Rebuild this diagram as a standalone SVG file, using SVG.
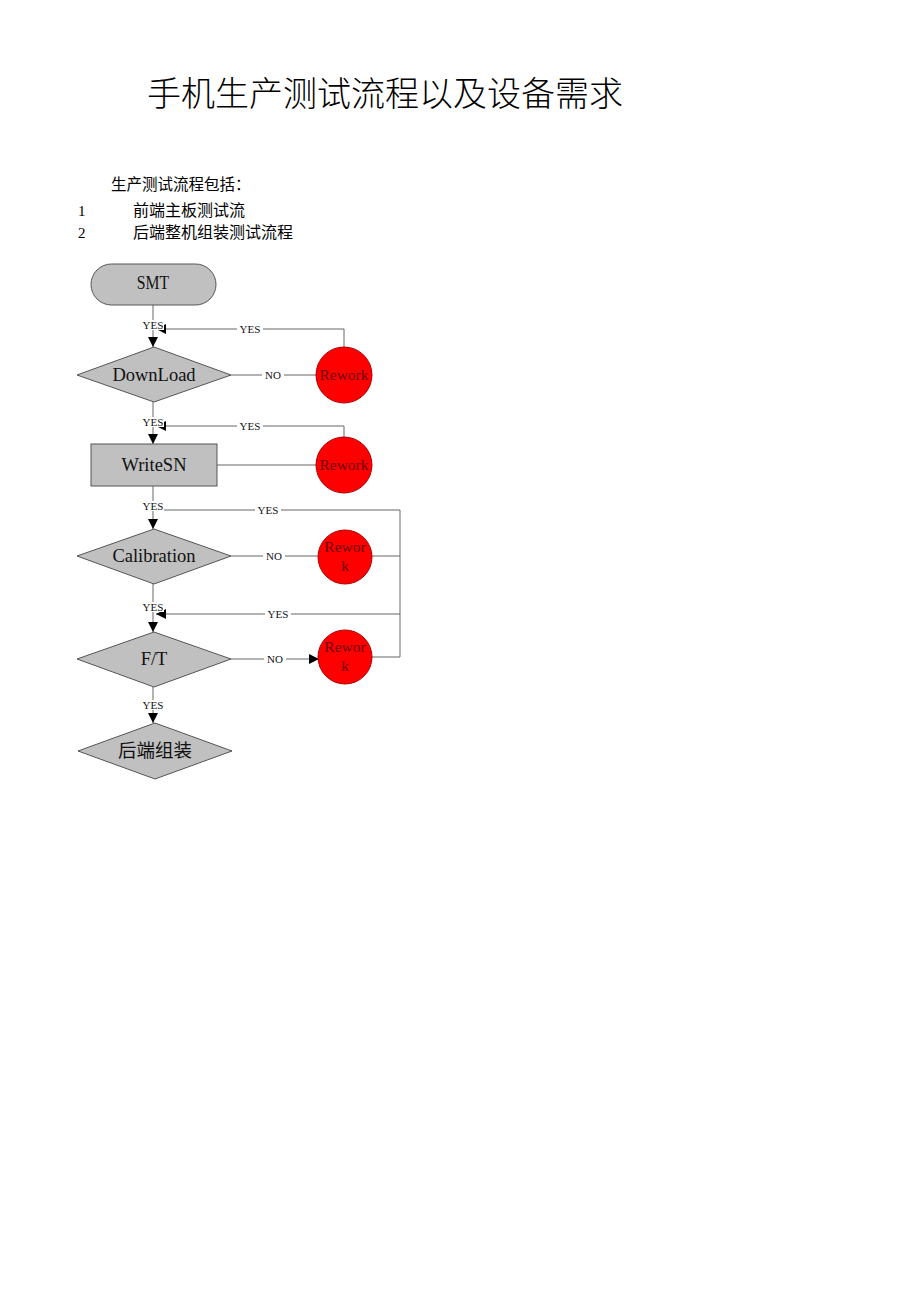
<svg xmlns="http://www.w3.org/2000/svg" width="920" height="1302" viewBox="0 0 920 1302">
<style>
.t{font-family:"Noto Sans CJK SC","Noto Sans",sans-serif;fill:#000}
.s{font-family:"Liberation Serif","Noto Sans CJK SC",serif;fill:#000}
.lbl{font-family:"Liberation Serif",serif;font-size:11px;fill:#111;text-anchor:middle}
.nd{fill:#c0c0c0;stroke:#555;stroke-width:1}
.rw{fill:#ff0000;stroke:#b00000;stroke-width:1}
.ntx{font-family:"Liberation Serif","Noto Sans CJK SC",serif;font-size:18.5px;fill:#111;text-anchor:middle}
.rtx{font-family:"Liberation Serif",serif;font-size:15.5px;fill:#6a0000;text-anchor:middle}
.ln{fill:none;stroke:#666;stroke-width:1}
.bg{fill:#fff}
</style>
<defs>
<marker id="ah" viewBox="0 0 10 10" refX="10" refY="5" markerWidth="10" markerHeight="10" markerUnits="userSpaceOnUse" orient="auto">
<path d="M0,0 L10,5 L0,10 z" fill="#000"/>
</marker>
</defs>
<rect width="920" height="1302" fill="#fff"/>
<text class="t" x="147" y="106" font-size="34" font-weight="300">手机生产测试流程以及设备需求</text>
<text class="t" x="111" y="190" font-size="15.5">生产测试流程包括：</text>
<text class="s" x="78" y="216" font-size="15">1</text>
<text class="t" x="133" y="216" font-size="16">前端主板测试流</text>
<text class="s" x="78" y="238" font-size="15">2</text>
<text class="t" x="133" y="238" font-size="16">后端整机组装测试流程</text>
<g id="connectors">
<path class="ln" d="M153,305 V347" marker-end="url(#ah)"/>
<path class="ln" d="M344,347 V329 H156" marker-end="url(#ah)"/>
<path class="ln" d="M231,375 H317"/>
<path class="ln" d="M153,402 V444" marker-end="url(#ah)"/>
<path class="ln" d="M344,437 V426 H156" marker-end="url(#ah)"/>
<path class="ln" d="M217,465 H317"/>
<path class="ln" d="M153,486 V529" marker-end="url(#ah)"/>
<path class="ln" d="M155,510 H400 V657 H372"/>
<path class="ln" d="M231,556 H318"/>
<path class="ln" d="M372,556 H400"/>
<path class="ln" d="M153,584 V632" marker-end="url(#ah)"/>
<path class="ln" d="M400,614 H156" marker-end="url(#ah)"/>
<path class="ln" d="M231,659 H319" marker-end="url(#ah)"/>
<path class="ln" d="M153,687 V723" marker-end="url(#ah)"/>
<rect class="bg" x="142" y="320" width="22" height="10"/><text class="lbl" x="153" y="329">YES</text>
<rect class="bg" x="237" y="324" width="26" height="10"/><text class="lbl" x="250" y="333">YES</text>
<rect class="bg" x="262" y="370" width="22" height="10"/><text class="lbl" x="273" y="379">NO</text>
<rect class="bg" x="142" y="417" width="22" height="10"/><text class="lbl" x="153" y="426">YES</text>
<rect class="bg" x="237" y="421" width="26" height="10"/><text class="lbl" x="250" y="430">YES</text>
<rect class="bg" x="142" y="501" width="22" height="10"/><text class="lbl" x="153" y="510">YES</text>
<rect class="bg" x="255" y="505" width="26" height="10"/><text class="lbl" x="268" y="514">YES</text>
<rect class="bg" x="263" y="551" width="22" height="10"/><text class="lbl" x="274" y="560">NO</text>
<rect class="bg" x="142" y="602" width="22" height="10"/><text class="lbl" x="153" y="611">YES</text>
<rect class="bg" x="265" y="609" width="26" height="10"/><text class="lbl" x="278" y="618">YES</text>
<rect class="bg" x="264" y="654" width="22" height="10"/><text class="lbl" x="275" y="663">NO</text>
<rect class="bg" x="142" y="700" width="22" height="10"/><text class="lbl" x="153" y="709">YES</text>
</g>
<g id="smt"><rect class="nd" x="91" y="264" width="125" height="41" rx="20.5"/><text class="ntx" x="153" y="289" font-size="16" transform="translate(153 0) scale(0.85 1) translate(-153 0)">SMT</text></g>
<g id="download"><polygon class="nd" points="154,347 231,375 154,402 77,375"/><text class="ntx" x="154" y="381">DownLoad</text></g>
<g id="rework1"><circle class="rw" cx="344" cy="375" r="28"/><text class="rtx" x="344" y="380">Rework</text></g>
<g id="writesn"><rect class="nd" x="91" y="444" width="126" height="42"/><text class="ntx" x="154" y="471">WriteSN</text></g>
<g id="rework2"><circle class="rw" cx="344" cy="465" r="28"/><text class="rtx" x="344" y="470">Rework</text></g>
<g id="calibration"><polygon class="nd" points="154,529 231,556 154,584 77,556"/><text class="ntx" x="154" y="562">Calibration</text></g>
<g id="rework3"><circle class="rw" cx="345" cy="557" r="27"/><text class="rtx" x="345" y="552">Rewor</text><text class="rtx" x="345" y="571">k</text></g>
<g id="ft"><polygon class="nd" points="154,632 231,659 154,687 77,659"/><text class="ntx" x="154" y="665">F/T</text></g>
<g id="rework4"><circle class="rw" cx="345" cy="657" r="27"/><text class="rtx" x="345" y="652">Rewor</text><text class="rtx" x="345" y="671">k</text></g>
<g id="backend"><polygon class="nd" points="155,723 232,751 155,779 78,751"/><text class="ntx" x="155" y="757">后端组装</text></g>
</svg>
